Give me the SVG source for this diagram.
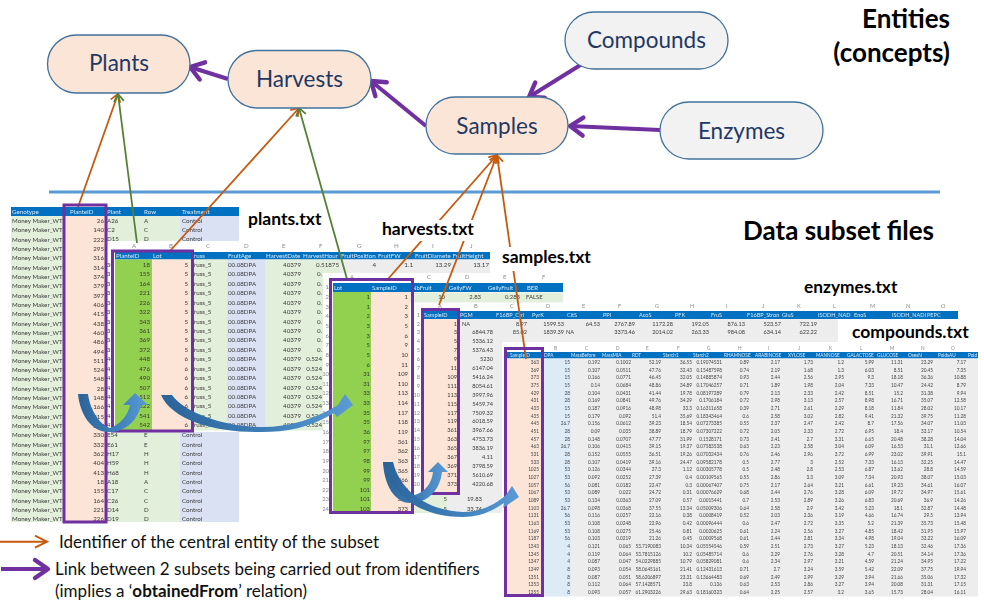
<svg xmlns="http://www.w3.org/2000/svg" width="984" height="611" viewBox="0 0 984 611">
<style>
text{font-family:Lato,"Liberation Sans",sans-serif}
.t1{font-size:6.2px;fill:#3a3a3a}
.t3{font-size:5.9px;fill:#3a3a3a}
.t4{font-size:5.6px;fill:#3a3a3a}
.t5{font-size:4.7px;fill:#444}
.h{fill:#dbe8f5}
.e,.e tspan{text-anchor:end}
.l{fill:#8a8a8a}
.bar{fill:#0070c0}
.lab{font-weight:700;fill:#000}
.node{stroke:#41719c;stroke-width:1.3}
.nl{font-size:22.5px;fill:#1f3864;text-anchor:middle}
.box{fill:none;stroke:#7030a0;stroke-width:3}
.or{stroke:#c55a11;stroke-width:1.8;fill:none;marker-end:url(#mo)}
.gr{stroke:#548235;stroke-width:1.8;fill:none;marker-end:url(#mg)}
.pu{stroke:#7030a0;stroke-width:4;fill:none;marker-end:url(#mp)}
.lg{font-size:17px;fill:#111}
</style>
<defs>
<marker id="mo" markerUnits="userSpaceOnUse" markerWidth="14" markerHeight="14" refX="11" refY="7" orient="auto"><path d="M3.500 2L11 7L3.500 12" fill="none" stroke="#c55a11" stroke-width="1.8"/></marker>
<marker id="mg" markerUnits="userSpaceOnUse" markerWidth="14" markerHeight="14" refX="11" refY="7" orient="auto"><path d="M3.500 2L11 7L3.500 12" fill="none" stroke="#548235" stroke-width="1.8"/></marker>
<marker id="mp" markerUnits="userSpaceOnUse" markerWidth="28" markerHeight="28" refX="20" refY="14" orient="auto"><path d="M7 5L20 14L7 23" fill="none" stroke="#7030a0" stroke-width="4.400" stroke-linecap="round" stroke-linejoin="round"/></marker>
<marker id="mol" markerUnits="userSpaceOnUse" markerWidth="20" markerHeight="20" refX="16" refY="10" orient="auto"><path d="M4 4L16 10L4 16" fill="none" stroke="#c55a11" stroke-width="2"/></marker>
<linearGradient id="ba" x1="0" y1="0" x2="1" y2="0"><stop offset="0" stop-color="#2a6399"/><stop offset=".55" stop-color="#3f7fb9"/><stop offset="1" stop-color="#5b9bd5"/></linearGradient>
<filter id="soft" x="0" y="0" width="1" height="1"><feGaussianBlur stdDeviation="0.35"/></filter>
</defs>

<g id="tables" filter="url(#soft)">
<g id="table-plants">
<rect x="11" y="207" width="228" height="9" class="bar"/>
<rect x="11" y="216" width="52" height="306" fill="#e2efda"/>
<rect x="63" y="216" width="42" height="306" fill="#fce4d6"/>
<rect x="105" y="216" width="75" height="306" fill="#e2efda"/>
<rect x="180" y="216" width="59" height="306" fill="#d9e1f2"/>
<g class="t1 h"><text x="12" y="214">Genotype</text><text x="70" y="214">PlanteID</text><text x="107" y="214">Plant</text><text x="144" y="214">Row</text><text x="182" y="214">Treatment</text></g>
<g class="t1">
<text x="12" y="223">Money Maker_WT</text><text x="12" y="232.3">Money Maker_WT</text><text x="12" y="241.6">Money Maker_WT</text><text x="12" y="251">Money Maker_WT</text><text x="12" y="260.3">Money Maker_WT</text><text x="12" y="269.6">Money Maker_WT</text><text x="12" y="278.9">Money Maker_WT</text><text x="12" y="288.2">Money Maker_WT</text><text x="12" y="297.6">Money Maker_WT</text><text x="12" y="306.9">Money Maker_WT</text><text x="12" y="316.2">Money Maker_WT</text><text x="12" y="325.5">Money Maker_WT</text><text x="12" y="334.8">Money Maker_WT</text><text x="12" y="344.2">Money Maker_WT</text><text x="12" y="353.5">Money Maker_WT</text><text x="12" y="362.8">Money Maker_WT</text><text x="12" y="372.1">Money Maker_WT</text><text x="12" y="381.4">Money Maker_WT</text><text x="12" y="390.8">Money Maker_WT</text><text x="12" y="400.1">Money Maker_WT</text><text x="12" y="409.4">Money Maker_WT</text><text x="12" y="418.7">Money Maker_WT</text><text x="12" y="428">Money Maker_WT</text><text x="12" y="437.4">Money Maker_WT</text><text x="12" y="446.7">Money Maker_WT</text><text x="12" y="456">Money Maker_WT</text><text x="12" y="465.3">Money Maker_WT</text><text x="12" y="474.6">Money Maker_WT</text><text x="12" y="484">Money Maker_WT</text><text x="12" y="493.3">Money Maker_WT</text><text x="12" y="502.6">Money Maker_WT</text><text x="12" y="511.9">Money Maker_WT</text><text x="12" y="521.2">Money Maker_WT</text>
</g>
<g class="t1 e">
<text x="104" y="223">26</text><text x="104" y="232.3">140</text><text x="104" y="241.6">222</text><text x="104" y="251">295</text><text x="104" y="260.3">316</text><text x="104" y="269.6">314</text><text x="104" y="278.9">374</text><text x="104" y="288.2">379</text><text x="104" y="297.6">397</text><text x="104" y="306.9">406</text><text x="104" y="316.2">415</text><text x="104" y="325.5">438</text><text x="104" y="334.8">460</text><text x="104" y="344.2">486</text><text x="104" y="353.5">494</text><text x="104" y="362.8">511</text><text x="104" y="372.1">524</text><text x="104" y="381.4">548</text><text x="104" y="390.8">28</text><text x="104" y="400.1">148</text><text x="104" y="409.4">166</text><text x="104" y="418.7">215</text><text x="104" y="428">327</text><text x="104" y="437.4">330</text><text x="104" y="446.7">332</text><text x="104" y="456">362</text><text x="104" y="465.3">404</text><text x="104" y="474.6">413</text><text x="104" y="484">18</text><text x="104" y="493.3">155</text><text x="104" y="502.6">164</text><text x="104" y="511.9">221</text><text x="104" y="521.2">226</text>
</g>
<g class="t1">
<text x="107" y="223">A26</text><text x="107" y="232.3">C2</text><text x="107" y="240.5">D15</text>
<text x="144" y="223">A</text><text x="144" y="232.3">C</text><text x="144" y="240.5">D</text>
<text x="182" y="223">Control</text><text x="182" y="232.3">Control</text><text x="182" y="240.5">Control</text>
<text x="107" y="437.4">E54</text><text x="144" y="437.4">E</text><text x="182" y="437.4">Control</text>
<text x="107" y="446.7">E61</text><text x="144" y="446.7">E</text><text x="182" y="446.7">Control</text>
<text x="107" y="456">H17</text><text x="144" y="456">H</text><text x="182" y="456">Control</text>
<text x="107" y="465.3">H59</text><text x="144" y="465.3">H</text><text x="182" y="465.3">Control</text>
<text x="107" y="474.6">H68</text><text x="144" y="474.6">H</text><text x="182" y="474.6">Control</text>
<text x="107" y="484">A18</text><text x="144" y="484">A</text><text x="182" y="484">Control</text>
<text x="107" y="493.3">C17</text><text x="144" y="493.3">C</text><text x="182" y="493.3">Control</text>
<text x="107" y="502.6">C26</text><text x="144" y="502.6">C</text><text x="182" y="502.6">Control</text>
<text x="107" y="511.9">D14</text><text x="144" y="511.9">D</text><text x="182" y="511.9">Control</text>
<text x="107" y="521.2">D19</text><text x="144" y="521.2">D</text><text x="182" y="521.2">Control</text>
</g>
</g>

<g id="table-harvests">
<rect x="107" y="241" width="383" height="191" fill="#fff"/>
<rect x="115" y="252" width="375" height="7.500" class="bar"/>
<rect x="115" y="259.500" width="37" height="171" fill="#92d050"/>
<rect x="152" y="259.500" width="38" height="171" fill="#fce4d6"/>
<rect x="190" y="259.500" width="37" height="171" fill="#e2efda"/>
<rect x="227" y="259.500" width="38" height="171" fill="#d9e1f2"/>
<rect x="265" y="259.500" width="75" height="171" fill="#e2efda"/>
<rect x="340" y="259.500" width="150" height="14" fill="#ededed"/>
<g class="t1 l"><text x="132" y="248">A</text><text x="169" y="248">B</text><text x="206" y="248">C</text><text x="244" y="248">D</text><text x="282" y="248">E</text><text x="319" y="248">F</text><text x="357" y="248">G</text><text x="394" y="248">H</text><text x="432" y="248">I</text><text x="470" y="248">J</text></g>
<g class="t1 h"><text x="116" y="258">PlanteID</text><text x="153" y="258">Lot</text><text x="191" y="258">Truss</text><text x="228" y="258">FruitAge</text><text x="266" y="258">HarvestDate</text><text x="303" y="258">HarvestHour</text><text x="341" y="258">FruitPosition</text><text x="378" y="258">FruitFW</text><text x="415" y="258">FruitDiamete</text><text x="452.500" y="258">FruitHeight</text></g>
<g class="t1 e">
<text x="150" y="267">18</text><text x="150" y="276.400">155</text><text x="150" y="285.800">164</text><text x="150" y="295.300">221</text><text x="150" y="304.700">226</text><text x="150" y="314.100">322</text><text x="150" y="323.500">343</text><text x="150" y="332.900">361</text><text x="150" y="342.400">369</text><text x="150" y="351.800">372</text><text x="150" y="361.200">448</text><text x="150" y="370.600">476</text><text x="150" y="380">490</text><text x="150" y="389.500">507</text><text x="150" y="398.900">512</text><text x="150" y="408.300">522</text><text x="150" y="417.700">541</text><text x="150" y="427.100">542</text>
<text x="188" y="267">5</text><text x="188" y="276.400">5</text><text x="188" y="285.800">5</text><text x="188" y="295.300">5</text><text x="188" y="304.700">5</text><text x="188" y="314.100">5</text><text x="188" y="323.500">5</text><text x="188" y="332.900">5</text><text x="188" y="342.400">5</text><text x="188" y="351.800">5</text><text x="188" y="361.200">6</text><text x="188" y="370.600">6</text><text x="188" y="380">6</text><text x="188" y="389.500">6</text><text x="188" y="398.900">6</text><text x="188" y="408.300">6</text><text x="188" y="417.700">6</text><text x="188" y="427.100">6</text>
</g>
<g class="t1">
<text y="267"><tspan x="191">Truss_5</tspan><tspan x="228">00.08DPA</tspan></text>
<text y="276.400"><tspan x="191">Truss_5</tspan><tspan x="228">00.08DPA</tspan></text>
<text y="285.800"><tspan x="191">Truss_5</tspan><tspan x="228">00.08DPA</tspan></text>
<text y="295.300"><tspan x="191">Truss_5</tspan><tspan x="228">00.08DPA</tspan></text>
<text y="304.700"><tspan x="191">Truss_5</tspan><tspan x="228">00.08DPA</tspan></text>
<text y="314.100"><tspan x="191">Truss_5</tspan><tspan x="228">00.08DPA</tspan></text>
<text y="323.500"><tspan x="191">Truss_5</tspan><tspan x="228">00.08DPA</tspan></text>
<text y="332.900"><tspan x="191">Truss_5</tspan><tspan x="228">00.08DPA</tspan></text>
<text y="342.400"><tspan x="191">Truss_5</tspan><tspan x="228">00.08DPA</tspan></text>
<text y="351.800"><tspan x="191">Truss_5</tspan><tspan x="228">00.08DPA</tspan></text>
<text y="361.200"><tspan x="191">Truss_5</tspan><tspan x="228">00.08DPA</tspan></text>
<text y="370.600"><tspan x="191">Truss_5</tspan><tspan x="228">00.08DPA</tspan></text>
<text y="380"><tspan x="191">Truss_5</tspan><tspan x="228">00.08DPA</tspan></text>
<text y="389.500"><tspan x="191">Truss_5</tspan><tspan x="228">00.08DPA</tspan></text>
<text y="398.900"><tspan x="191">Truss_5</tspan><tspan x="228">00.08DPA</tspan></text>
<text y="408.300"><tspan x="191">Truss_5</tspan><tspan x="228">00.08DPA</tspan></text>
<text y="417.700"><tspan x="191">Truss_5</tspan><tspan x="228">00.08DPA</tspan></text>
<text y="427.100"><tspan x="191">Truss_5</tspan><tspan x="228">00.08DPA</tspan></text>
</g>
<g class="t1 e">
<text y="267"><tspan x="301">40379</tspan><tspan x="339">0.51875</tspan><tspan x="376">4</tspan><tspan x="413">1.1</tspan><tspan x="451">13.29</tspan><tspan x="489">13.17</tspan></text>
<text y="276.400"><tspan x="301">40379</tspan><tspan x="322">0.</tspan></text>
<text y="285.800"><tspan x="301">40379</tspan><tspan x="322">0.</tspan></text>
<text y="295.300"><tspan x="301">40379</tspan><tspan x="322">0.</tspan></text>
<text y="304.700"><tspan x="301">40379</tspan><tspan x="322">0.</tspan></text>
<text y="314.100"><tspan x="301">40379</tspan><tspan x="322">0.</tspan></text>
<text y="323.500"><tspan x="301">40379</tspan><tspan x="322">0.</tspan></text>
<text y="332.900"><tspan x="301">40379</tspan><tspan x="322">0.</tspan></text>
<text y="342.400"><tspan x="301">40379</tspan><tspan x="322">0.</tspan></text>
<text y="351.800"><tspan x="301">40379</tspan><tspan x="322">0.</tspan></text>
<text y="361.200"><tspan x="301">40379</tspan><tspan x="322">0.524</tspan></text>
<text y="370.600"><tspan x="301">40379</tspan><tspan x="322">0.524</tspan></text>
<text y="380"><tspan x="301">40379</tspan><tspan x="322">0.524</tspan></text>
<text y="389.500"><tspan x="301">40379</tspan><tspan x="322">0.524</tspan></text>
<text y="398.900"><tspan x="301">40379</tspan><tspan x="322">0.524</tspan></text>
<text y="408.300"><tspan x="301">40379</tspan><tspan x="322">0.524</tspan></text>
<text y="417.700"><tspan x="301">40379</tspan><tspan x="322">0.524</tspan></text>
<text y="427.100"><tspan x="301">40379</tspan><tspan x="322">0.524</tspan></text>
</g>
<rect x="107" y="241" width="8" height="191" fill="#fff"/>
<g class="t1 e" fill="#555"><text x="114" y="267">30</text><text x="114" y="276.400">31</text><text x="114" y="285.800">32</text><text x="114" y="295.300">33</text><text x="114" y="304.700">34</text><text x="114" y="314.100">35</text><text x="114" y="323.500">36</text><text x="114" y="332.900">37</text><text x="114" y="342.400">38</text><text x="114" y="351.800">39</text><text x="114" y="361.200">40</text><text x="114" y="370.600">41</text><text x="114" y="380">42</text><text x="114" y="389.500">43</text><text x="114" y="398.900">44</text><text x="114" y="408.300">45</text><text x="114" y="417.700">46</text><text x="114" y="427.100">47</text></g>
</g>

<g id="table-harvest-sample">
<rect x="323" y="273" width="240" height="240" fill="#fff"/>
<rect x="333" y="283" width="230" height="9" class="bar"/>
<rect x="333" y="292" width="38" height="220" fill="#92d050"/>
<rect x="371" y="292" width="39" height="220" fill="#fce4d6"/>
<rect x="410" y="292.500" width="153" height="10" fill="#e2efda"/>
<rect x="410" y="494" width="37" height="19" fill="#e2efda"/>
<rect x="447" y="494" width="58" height="19" fill="#ededed"/>
<g class="t3 l"><text x="350" y="279">A</text><text x="427" y="279">C</text><text x="465" y="279">D</text><text x="503" y="279">E</text><text x="542" y="279">F</text></g>
<g class="t3 h"><text x="334" y="290">Lot</text><text x="372" y="290">SampleID</text><text x="412" y="290">NbFruit</text><text x="449" y="290">GellyFW</text><text x="488" y="290">GellyFruit</text><text x="527" y="290">BER</text></g>
<g class="t3 e"><text y="299"><tspan x="370">1</tspan><tspan x="408">1</tspan><tspan x="445">10</tspan><tspan x="481">2.83</tspan><tspan x="520">0.283</tspan></text>
<text y="308.600"><tspan x="370">1</tspan><tspan x="408">2</tspan></text>
<text y="318.300"><tspan x="370">2</tspan><tspan x="408">3</tspan></text>
<text y="327.900"><tspan x="370">3</tspan><tspan x="408">5</tspan></text>
<text y="337.600"><tspan x="370">3</tspan><tspan x="408">6</tspan></text>
<text y="347.200"><tspan x="370">5</tspan><tspan x="408">9</tspan></text>
<text y="356.800"><tspan x="370">5</tspan><tspan x="408">10</tspan></text>
<text y="366.500"><tspan x="370">6</tspan><tspan x="408">11</tspan></text>
<text y="376.100"><tspan x="370">31</tspan><tspan x="408">109</tspan></text>
<text y="385.800"><tspan x="370">31</tspan><tspan x="408">110</tspan></text>
<text y="395.400"><tspan x="370">33</tspan><tspan x="408">113</tspan></text>
<text y="405"><tspan x="370">33</tspan><tspan x="408">114</tspan></text>
<text y="414.700"><tspan x="370">35</tspan><tspan x="408">117</tspan></text>
<text y="424.300"><tspan x="370">35</tspan><tspan x="408">118</tspan></text>
<text y="434"><tspan x="370">36</tspan><tspan x="408">119</tspan></text>
<text y="443.600"><tspan x="370">97</tspan><tspan x="408">361</tspan></text>
<text y="453.200"><tspan x="370">97</tspan><tspan x="408">362</tspan></text>
<text y="462.900"><tspan x="370">98</tspan><tspan x="408">363</tspan></text>
<text y="472.500"><tspan x="370">99</tspan><tspan x="408">365</tspan></text>
<text y="482.200"><tspan x="370">99</tspan><tspan x="408">366</tspan></text>
<text y="491.800"><tspan x="370">101</tspan><tspan x="408">369</tspan></text>
<text y="501.400"><tspan x="370">101</tspan><tspan x="408">371</tspan><tspan x="447">5</tspan><tspan x="482">19.83</tspan></text>
<text y="511"><tspan x="370">103</tspan><tspan x="408">373</tspan><tspan x="447">5</tspan><tspan x="482">33.74</tspan></text></g>
<text class="t3" x="526" y="299">FALSE</text>
<g class="t3 l e"><text x="329" y="289">1</text><text x="329" y="299">2</text><text x="329" y="308.600">3</text><text x="329" y="318.300">4</text><text x="329" y="327.900">5</text><text x="329" y="337.600">6</text><text x="329" y="347.200">7</text><text x="329" y="356.800">8</text><text x="329" y="366.500">9</text><text x="329" y="376.100">10</text><text x="329" y="385.800">11</text><text x="329" y="395.400">12</text><text x="329" y="405">13</text><text x="329" y="414.700">14</text><text x="329" y="424.300">15</text><text x="329" y="434">16</text><text x="329" y="443.600">17</text><text x="329" y="453.200">18</text><text x="329" y="462.900">19</text><text x="329" y="472.500">20</text><text x="329" y="482.200">21</text><text x="329" y="491.800">22</text><text x="329" y="501.400">23</text><text x="329" y="511">24</text></g>
</g>

<g id="table-enzymes">
<rect x="413" y="303" width="545" height="39" fill="#fff"/>
<rect x="413" y="303" width="92" height="191" fill="#fff"/>
<rect x="422" y="311" width="536" height="8" class="bar"/>
<rect x="424" y="319" width="34" height="175" fill="#fce4d6"/>
<rect x="458" y="319" width="47" height="175" fill="#ededed"/>
<rect x="505" y="319" width="453" height="23" fill="#ededed"/>
<g class="t4 l"><text x="438" y="308">A</text><text x="474" y="308">B</text><text x="510" y="308">C</text><text x="546" y="308">D</text><text x="582" y="308">E</text><text x="618" y="308">F</text><text x="655" y="308">G</text><text x="690" y="308">H</text><text x="726" y="308">I</text><text x="762" y="308">J</text><text x="797" y="308">K</text><text x="833" y="308">L</text><text x="870" y="308">M</text><text x="906" y="308">N</text><text x="941" y="308">O</text></g>
<g class="t4 h"><text x="424" y="317">SampleID</text><text x="460" y="317">PGM</text><text x="496" y="317">F16BP_Ctrl</text><text x="532" y="317">PyrK</text><text x="567" y="317">CitS</text><text x="603" y="317">PPI</text><text x="639" y="317">AcoS</text><text x="675" y="317">PFK</text><text x="711" y="317">FruS</text><text x="747" y="317">F16BP_Stron</text><text x="782" y="317">GluS</text><text x="818" y="317">ISODH_NAD</text><text x="854" y="317">EnoS</text><text x="892" y="317">ISODH_NADI</text><text x="927" y="317">PEPC</text></g>
<g class="t4 e">
<text y="325.500"><tspan x="457">1</tspan><tspan x="527">8.97</tspan><tspan x="564">1599.53</tspan><tspan x="600">64.53</tspan><tspan x="635">2767.89</tspan><tspan x="673">1172.28</tspan><tspan x="709">192.05</tspan><tspan x="745">876.13</tspan><tspan x="781">523.57</tspan><tspan x="817">722.19</tspan></text>
<text y="334.400"><tspan x="457">3</tspan><tspan x="493">6844.78</tspan><tspan x="527">85.02</tspan><tspan x="564">1839.39</tspan><tspan x="635">3373.46</tspan><tspan x="673">2014.02</tspan><tspan x="709">263.33</tspan><tspan x="745">984.08</tspan><tspan x="781">634.14</tspan><tspan x="817">622.22</tspan></text>
<text y="343.300"><tspan x="457">5</tspan><tspan x="493">5336.12</tspan></text>
<text y="352.200"><tspan x="457">7</tspan><tspan x="493">5376.43</tspan></text>
<text y="361.100"><tspan x="457">9</tspan><tspan x="493">5230</tspan></text>
<text y="370"><tspan x="457">11</tspan><tspan x="493">6147.04</tspan></text>
<text y="378.900"><tspan x="457">109</tspan><tspan x="493">5416.24</tspan></text>
<text y="387.800"><tspan x="457">111</tspan><tspan x="493">8054.61</tspan></text>
<text y="396.700"><tspan x="457">113</tspan><tspan x="493">3997.96</tspan></text>
<text y="405.600"><tspan x="457">115</tspan><tspan x="493">5459.74</tspan></text>
<text y="414.500"><tspan x="457">117</tspan><tspan x="493">7509.32</tspan></text>
<text y="423.400"><tspan x="457">119</tspan><tspan x="493">6018.59</tspan></text>
<text y="432.300"><tspan x="457">361</tspan><tspan x="493">3967.66</tspan></text>
<text y="441.200"><tspan x="457">363</tspan><tspan x="493">4753.73</tspan></text>
<text y="450.100"><tspan x="457">365</tspan><tspan x="493">3836.19</tspan></text>
<text y="459"><tspan x="457">367</tspan><tspan x="493">4.11</tspan></text>
<text y="467.900"><tspan x="457">369</tspan><tspan x="493">3798.59</tspan></text>
<text y="476.800"><tspan x="457">371</tspan><tspan x="493">5610.69</tspan></text>
<text y="485.700"><tspan x="457">373</tspan><tspan x="493">4220.68</tspan></text>
</g>
<text class="t4" x="462" y="325.500">NA</text><text class="t4" x="566" y="334.400">NA</text>
<g class="t4 l e"><text x="420" y="317">1</text><text x="420" y="325.500">2</text><text x="420" y="334.400">3</text><text x="420" y="343.300">4</text><text x="420" y="352.200">5</text><text x="420" y="361.100">6</text><text x="420" y="370">7</text><text x="420" y="378.900">8</text><text x="420" y="387.800">9</text><text x="420" y="396.700">10</text><text x="420" y="405.600">11</text><text x="420" y="414.500">12</text><text x="420" y="423.400">13</text><text x="420" y="432.300">14</text><text x="420" y="441.200">15</text><text x="420" y="450.100">16</text><text x="420" y="459">17</text><text x="420" y="467.900">18</text><text x="420" y="476.800">19</text><text x="420" y="485.700">20</text></g>
<rect x="838" y="319" width="146" height="23" fill="#fff"/>
</g>

<g id="table-compounds">
<rect x="502" y="342" width="482" height="256" fill="#fff"/>
<rect x="507" y="352" width="471" height="6.500" class="bar"/>
<rect x="507" y="358.500" width="36" height="238" fill="#fce4d6"/>
<rect x="543" y="358.500" width="28" height="238" fill="#ddebf7"/>
<rect x="571" y="358.500" width="407" height="238" fill="#ededed"/>
<g class="t5 l"><text x="554" y="350">B</text><text x="585" y="350">C</text><text x="616" y="350">D</text><text x="646" y="350">E</text><text x="677" y="350">F</text><text x="707" y="350">G</text><text x="738" y="350">H</text><text x="768" y="350">I</text><text x="798" y="350">J</text><text x="829" y="350">K</text><text x="860" y="350">L</text><text x="890" y="350">M</text><text x="921" y="350">N</text><text x="951" y="350">O</text></g>
<g class="t5 h"><text x="510" y="357">SampleID</text><text x="544" y="357">DPA</text><text x="571" y="357">MassBefore</text><text x="602" y="357">MassMIA</text><text x="632" y="357">RDT</text><text x="663" y="357">Starch1</text><text x="693" y="357">Starch2</text><text x="724" y="357">RHAMNOSE</text><text x="755" y="357">ARABINOSE</text><text x="788" y="357">XYLOSE</text><text x="816" y="357">MANNOSE</text><text x="847" y="357">GALACTOSE</text><text x="877" y="357">GLUCOSE</text><text x="908" y="357">OsesN</text><text x="938" y="357">PoidsAU</text><text x="968" y="357">Poid</text></g>
<g class="t5 e">
<text y="364"><tspan x="539">363</tspan><tspan x="570">15</tspan><tspan x="600">0.192</tspan><tspan x="631">0.1002</tspan><tspan x="661">52.19</tspan><tspan x="692">36.55</tspan><tspan x="722">0.19074531</tspan><tspan x="749">0.89</tspan><tspan x="780">2.17</tspan><tspan x="813">1.73</tspan><tspan x="844">1.2</tspan><tspan x="874">5.99</tspan><tspan x="903">11.31</tspan><tspan x="933">23.29</tspan><tspan x="966">7.17</tspan></text>
<text y="371.700"><tspan x="539">369</tspan><tspan x="570">15</tspan><tspan x="600">0.107</tspan><tspan x="631">0.0511</tspan><tspan x="661">47.76</tspan><tspan x="692">32.43</tspan><tspan x="722">0.15487598</tspan><tspan x="749">0.74</tspan><tspan x="780">2.19</tspan><tspan x="813">1.68</tspan><tspan x="844">1.3</tspan><tspan x="874">6.03</tspan><tspan x="903">8.51</tspan><tspan x="933">20.45</tspan><tspan x="966">7.35</tspan></text>
<text y="379.300"><tspan x="539">373</tspan><tspan x="570">15</tspan><tspan x="600">0.166</tspan><tspan x="631">0.0771</tspan><tspan x="661">46.45</tspan><tspan x="692">32.05</tspan><tspan x="722">0.14885874</tspan><tspan x="749">0.93</tspan><tspan x="780">2.44</tspan><tspan x="813">2.56</tspan><tspan x="844">2.95</tspan><tspan x="874">9.3</tspan><tspan x="903">18.18</tspan><tspan x="933">36.36</tspan><tspan x="966">10.88</tspan></text>
<text y="387"><tspan x="539">375</tspan><tspan x="570">15</tspan><tspan x="600">0.14</tspan><tspan x="631">0.0684</tspan><tspan x="661">48.86</tspan><tspan x="692">34.89</tspan><tspan x="722">0.17046257</tspan><tspan x="749">0.71</tspan><tspan x="780">1.89</tspan><tspan x="813">1.98</tspan><tspan x="844">2.04</tspan><tspan x="874">7.33</tspan><tspan x="903">10.47</tspan><tspan x="933">24.42</tspan><tspan x="966">8.79</tspan></text>
<text y="394.700"><tspan x="539">429</tspan><tspan x="570">28</tspan><tspan x="600">0.104</tspan><tspan x="631">0.0431</tspan><tspan x="661">41.44</tspan><tspan x="692">19.78</tspan><tspan x="722">0.08197289</tspan><tspan x="749">0.79</tspan><tspan x="780">2.13</tspan><tspan x="813">2.33</tspan><tspan x="844">2.42</tspan><tspan x="874">8.51</tspan><tspan x="903">15.2</tspan><tspan x="933">31.38</tspan><tspan x="966">9.94</tspan></text>
<text y="402.400"><tspan x="539">431</tspan><tspan x="570">28</tspan><tspan x="600">0.169</tspan><tspan x="631">0.0841</tspan><tspan x="661">49.76</tspan><tspan x="692">34.29</tspan><tspan x="722">0.1706184</tspan><tspan x="749">0.72</tspan><tspan x="780">2.98</tspan><tspan x="813">3.13</tspan><tspan x="844">2.57</tspan><tspan x="874">8.98</tspan><tspan x="903">16.71</tspan><tspan x="933">35.07</tspan><tspan x="966">12.58</tspan></text>
<text y="410"><tspan x="539">433</tspan><tspan x="570">15</tspan><tspan x="600">0.187</tspan><tspan x="631">0.0916</tspan><tspan x="661">48.98</tspan><tspan x="692">33.3</tspan><tspan x="722">0.16311658</tspan><tspan x="749">0.39</tspan><tspan x="780">2.71</tspan><tspan x="813">2.61</tspan><tspan x="844">2.29</tspan><tspan x="874">8.18</tspan><tspan x="903">11.84</tspan><tspan x="933">28.02</tspan><tspan x="966">10.17</tspan></text>
<text y="417.700"><tspan x="539">435</tspan><tspan x="570">15</tspan><tspan x="600">0.179</tspan><tspan x="631">0.092</tspan><tspan x="661">51.4</tspan><tspan x="692">35.69</tspan><tspan x="722">0.18343464</tspan><tspan x="749">0.6</tspan><tspan x="780">2.58</tspan><tspan x="813">3.02</tspan><tspan x="844">2.82</tspan><tspan x="874">9.41</tspan><tspan x="903">21.32</tspan><tspan x="933">39.75</tspan><tspan x="966">11.28</tspan></text>
<text y="425.400"><tspan x="539">445</tspan><tspan x="570">26.7</tspan><tspan x="600">0.156</tspan><tspan x="631">0.0612</tspan><tspan x="661">39.23</tspan><tspan x="692">18.54</tspan><tspan x="722">0.07273385</tspan><tspan x="749">0.55</tspan><tspan x="780">2.37</tspan><tspan x="813">2.47</tspan><tspan x="844">2.42</tspan><tspan x="874">8.7</tspan><tspan x="903">17.56</tspan><tspan x="933">34.07</tspan><tspan x="966">11.03</tspan></text>
<text y="433"><tspan x="539">451</tspan><tspan x="570">28</tspan><tspan x="600">0.09</tspan><tspan x="631">0.035</tspan><tspan x="661">38.89</tspan><tspan x="692">18.79</tspan><tspan x="722">0.07307222</tspan><tspan x="749">0.72</tspan><tspan x="780">2.05</tspan><tspan x="813">2.33</tspan><tspan x="844">2.72</tspan><tspan x="874">6.95</tspan><tspan x="903">18.4</tspan><tspan x="933">33.17</tspan><tspan x="966">10.54</tspan></text>
<text y="440.700"><tspan x="539">457</tspan><tspan x="570">28</tspan><tspan x="600">0.148</tspan><tspan x="631">0.0707</tspan><tspan x="661">47.77</tspan><tspan x="692">31.99</tspan><tspan x="722">0.1528171</tspan><tspan x="749">0.73</tspan><tspan x="780">2.41</tspan><tspan x="813">2.7</tspan><tspan x="844">3.31</tspan><tspan x="874">6.65</tspan><tspan x="903">20.48</tspan><tspan x="933">38.28</tspan><tspan x="966">14.04</tspan></text>
<text y="448.400"><tspan x="539">463</tspan><tspan x="570">26.7</tspan><tspan x="600">0.106</tspan><tspan x="631">0.0415</tspan><tspan x="661">39.15</tspan><tspan x="692">19.37</tspan><tspan x="722">0.07583538</tspan><tspan x="749">0.63</tspan><tspan x="780">2.23</tspan><tspan x="813">2.58</tspan><tspan x="844">3.04</tspan><tspan x="874">6.09</tspan><tspan x="903">16.53</tspan><tspan x="933">31.1</tspan><tspan x="966">12.66</tspan></text>
<text y="456"><tspan x="539">531</tspan><tspan x="570">28</tspan><tspan x="600">0.152</tspan><tspan x="631">0.0555</tspan><tspan x="661">36.51</tspan><tspan x="692">19.26</tspan><tspan x="722">0.07032434</tspan><tspan x="749">0.76</tspan><tspan x="780">2.46</tspan><tspan x="813">2.96</tspan><tspan x="844">3.72</tspan><tspan x="874">6.99</tspan><tspan x="903">23.02</tspan><tspan x="933">39.91</tspan><tspan x="966">15.1</tspan></text>
<text y="463.700"><tspan x="539">533</tspan><tspan x="570">28</tspan><tspan x="600">0.107</tspan><tspan x="631">0.0419</tspan><tspan x="661">39.16</tspan><tspan x="692">24.47</tspan><tspan x="722">0.09582178</tspan><tspan x="749">0.5</tspan><tspan x="780">2.77</tspan><tspan x="813">3</tspan><tspan x="844">2.52</tspan><tspan x="874">7.33</tspan><tspan x="903">16.13</tspan><tspan x="933">32.25</tspan><tspan x="966">14.47</tspan></text>
<text y="471.400"><tspan x="539">1025</tspan><tspan x="570">53</tspan><tspan x="600">0.126</tspan><tspan x="631">0.0344</tspan><tspan x="661">27.3</tspan><tspan x="692">1.12</tspan><tspan x="722">0.00305778</tspan><tspan x="749">0.5</tspan><tspan x="780">2.48</tspan><tspan x="813">2.8</tspan><tspan x="844">2.53</tspan><tspan x="874">6.87</tspan><tspan x="903">13.62</tspan><tspan x="933">28.8</tspan><tspan x="966">14.59</tspan></text>
<text y="479"><tspan x="539">1027</tspan><tspan x="570">53</tspan><tspan x="600">0.092</tspan><tspan x="631">0.0252</tspan><tspan x="661">27.39</tspan><tspan x="692">0.4</tspan><tspan x="722">0.00109565</tspan><tspan x="749">0.55</tspan><tspan x="780">2.86</tspan><tspan x="813">3.3</tspan><tspan x="844">3.09</tspan><tspan x="874">7.34</tspan><tspan x="903">20.93</tspan><tspan x="933">38.07</tspan><tspan x="966">15.03</tspan></text>
<text y="486.700"><tspan x="539">1057</tspan><tspan x="570">56</tspan><tspan x="600">0.081</tspan><tspan x="631">0.0182</tspan><tspan x="661">22.47</tspan><tspan x="692">0.3</tspan><tspan x="722">0.00067407</tspan><tspan x="749">0.75</tspan><tspan x="780">2.17</tspan><tspan x="813">2.64</tspan><tspan x="844">3.21</tspan><tspan x="874">6.61</tspan><tspan x="903">19.23</tspan><tspan x="933">34.61</tspan><tspan x="966">16.07</tspan></text>
<text y="494.400"><tspan x="539">1067</tspan><tspan x="570">53</tspan><tspan x="600">0.089</tspan><tspan x="631">0.022</tspan><tspan x="661">24.72</tspan><tspan x="692">0.31</tspan><tspan x="722">0.00076629</tspan><tspan x="749">0.68</tspan><tspan x="780">2.44</tspan><tspan x="813">2.76</tspan><tspan x="844">3.28</tspan><tspan x="874">6.09</tspan><tspan x="903">19.72</tspan><tspan x="933">34.97</tspan><tspan x="966">15.61</tspan></text>
<text y="502"><tspan x="539">1089</tspan><tspan x="570">53</tspan><tspan x="600">0.134</tspan><tspan x="631">0.0363</tspan><tspan x="661">27.09</tspan><tspan x="692">0.57</tspan><tspan x="722">0.0015441</tspan><tspan x="749">0.7</tspan><tspan x="780">2.53</tspan><tspan x="813">2.89</tspan><tspan x="844">3.26</tspan><tspan x="874">6.83</tspan><tspan x="903">20.69</tspan><tspan x="933">36.9</tspan><tspan x="966">14.26</tspan></text>
<text y="509.700"><tspan x="539">1103</tspan><tspan x="570">26.7</tspan><tspan x="600">0.098</tspan><tspan x="631">0.0368</tspan><tspan x="661">37.55</tspan><tspan x="692">13.34</tspan><tspan x="722">0.05009306</tspan><tspan x="749">0.64</tspan><tspan x="780">2.58</tspan><tspan x="813">2.9</tspan><tspan x="844">3.42</tspan><tspan x="874">5.23</tspan><tspan x="903">18.1</tspan><tspan x="933">32.87</tspan><tspan x="966">14.48</tspan></text>
<text y="517.400"><tspan x="539">1131</tspan><tspan x="570">56</tspan><tspan x="600">0.116</tspan><tspan x="631">0.0257</tspan><tspan x="661">22.16</tspan><tspan x="692">0.38</tspan><tspan x="722">0.0008419</tspan><tspan x="749">0.52</tspan><tspan x="780">2.03</tspan><tspan x="813">2.36</tspan><tspan x="844">3.19</tspan><tspan x="874">4.66</tspan><tspan x="903">16.74</tspan><tspan x="933">29.5</tspan><tspan x="966">13.94</tspan></text>
<text y="525"><tspan x="539">1163</tspan><tspan x="570">53</tspan><tspan x="600">0.108</tspan><tspan x="631">0.0248</tspan><tspan x="661">22.96</tspan><tspan x="692">0.42</tspan><tspan x="722">0.00096444</tspan><tspan x="749">0.6</tspan><tspan x="780">2.47</tspan><tspan x="813">2.72</tspan><tspan x="844">3.35</tspan><tspan x="874">5.2</tspan><tspan x="903">21.39</tspan><tspan x="933">35.73</tspan><tspan x="966">15.48</tspan></text>
<text y="532.700"><tspan x="539">1169</tspan><tspan x="570">53</tspan><tspan x="600">0.108</tspan><tspan x="631">0.0275</tspan><tspan x="661">25.46</tspan><tspan x="692">0.81</tspan><tspan x="722">0.0020625</tspan><tspan x="749">0.61</tspan><tspan x="780">2.24</tspan><tspan x="813">2.56</tspan><tspan x="844">3.27</tspan><tspan x="874">4.85</tspan><tspan x="903">18.42</tspan><tspan x="933">31.95</tspan><tspan x="966">15.97</tspan></text>
<text y="540.400"><tspan x="539">1187</tspan><tspan x="570">56</tspan><tspan x="600">0.103</tspan><tspan x="631">0.0219</tspan><tspan x="661">21.26</tspan><tspan x="692">0.45</tspan><tspan x="722">0.0009568</tspan><tspan x="749">0.61</tspan><tspan x="780">2.44</tspan><tspan x="813">2.81</tspan><tspan x="844">3.34</tspan><tspan x="874">4.98</tspan><tspan x="903">19.04</tspan><tspan x="933">33.22</tspan><tspan x="966">16.09</tspan></text>
<text y="548"><tspan x="539">1343</tspan><tspan x="570">4</tspan><tspan x="600">0.121</tspan><tspan x="631">0.065</tspan><tspan x="661">53.7190083</tspan><tspan x="692">10.34</tspan><tspan x="722">0.05554546</tspan><tspan x="749">0.59</tspan><tspan x="780">2.51</tspan><tspan x="813">2.73</tspan><tspan x="844">3.27</tspan><tspan x="874">5.23</tspan><tspan x="903">18.13</tspan><tspan x="933">32.46</tspan><tspan x="966">17.36</tspan></text>
<text y="555.700"><tspan x="539">1345</tspan><tspan x="570">4</tspan><tspan x="600">0.119</tspan><tspan x="631">0.064</tspan><tspan x="661">53.7815126</tspan><tspan x="692">10.2</tspan><tspan x="722">0.05485714</tspan><tspan x="749">0.6</tspan><tspan x="780">2.29</tspan><tspan x="813">2.76</tspan><tspan x="844">3.28</tspan><tspan x="874">4.7</tspan><tspan x="903">20.51</tspan><tspan x="933">34.14</tspan><tspan x="966">17.36</tspan></text>
<text y="563.400"><tspan x="539">1347</tspan><tspan x="570">4</tspan><tspan x="600">0.087</tspan><tspan x="631">0.047</tspan><tspan x="661">54.0229885</tspan><tspan x="692">10.79</tspan><tspan x="722">0.05829081</tspan><tspan x="749">0.6</tspan><tspan x="780">2.34</tspan><tspan x="813">2.97</tspan><tspan x="844">3.21</tspan><tspan x="874">4.59</tspan><tspan x="903">21.24</tspan><tspan x="933">34.95</tspan><tspan x="966">17.22</tspan></text>
<text y="571"><tspan x="539">1349</tspan><tspan x="570">8</tspan><tspan x="600">0.093</tspan><tspan x="631">0.054</tspan><tspan x="661">58.0645161</tspan><tspan x="692">21.41</tspan><tspan x="722">0.12431613</tspan><tspan x="749">0.71</tspan><tspan x="780">2.7</tspan><tspan x="813">3.24</tspan><tspan x="844">3.59</tspan><tspan x="874">5.42</tspan><tspan x="903">22.09</tspan><tspan x="933">37.75</tspan><tspan x="966">19.94</tspan></text>
<text y="578.700"><tspan x="539">1351</tspan><tspan x="570">8</tspan><tspan x="600">0.087</tspan><tspan x="631">0.051</tspan><tspan x="661">58.6206897</tspan><tspan x="692">23.31</tspan><tspan x="722">0.13664483</tspan><tspan x="749">0.69</tspan><tspan x="780">2.49</tspan><tspan x="813">2.99</tspan><tspan x="844">3.29</tspan><tspan x="874">3.94</tspan><tspan x="903">21.66</tspan><tspan x="933">35.06</tspan><tspan x="966">17.32</tspan></text>
<text y="586.400"><tspan x="539">1353</tspan><tspan x="570">8</tspan><tspan x="600">0.112</tspan><tspan x="631">0.064</tspan><tspan x="661">57.1428571</tspan><tspan x="692">23.8</tspan><tspan x="722">0.136</tspan><tspan x="749">0.63</tspan><tspan x="780">2.53</tspan><tspan x="813">2.86</tspan><tspan x="844">3.27</tspan><tspan x="874">3.94</tspan><tspan x="903">20.08</tspan><tspan x="933">31.31</tspan><tspan x="966">17.15</tspan></text>
<text y="594"><tspan x="539">1355</tspan><tspan x="570">8</tspan><tspan x="600">0.093</tspan><tspan x="631">0.057</tspan><tspan x="661">61.2903226</tspan><tspan x="692">29.63</tspan><tspan x="722">0.18160323</tspan><tspan x="749">0.64</tspan><tspan x="780">2.25</tspan><tspan x="813">2.57</tspan><tspan x="844">3.2</tspan><tspan x="874">3.65</tspan><tspan x="903">15.73</tspan><tspan x="933">28.04</tspan><tspan x="966">16.11</tspan></text>
</g>
</g>
</g>

<g id="divider"><line x1="49" y1="192" x2="940" y2="192" stroke="#5b9bd5" stroke-width="3.200"/></g>

<g id="connectors">
<line class="or" x1="78" y1="207" x2="118" y2="94"/>
<line class="gr" x1="137" y1="243" x2="118" y2="94"/>
<line class="or" x1="170" y1="251" x2="299" y2="108"/>
<line class="gr" x1="347" y1="279" x2="299" y2="108"/>
<line class="or" x1="388" y1="279" x2="497" y2="155"/>
<line class="or" x1="439" y1="305" x2="497" y2="155"/>
<line class="or" x1="526" y1="359" x2="497" y2="155"/>
<line class="pu" x1="228" y1="79" x2="190" y2="67"/>
<line class="pu" x1="426" y1="126" x2="371" y2="81"/>
<line class="pu" x1="582" y1="64" x2="529" y2="97"/>
<line class="pu" x1="660" y1="130" x2="570" y2="126"/>
</g>

<g id="labels">
<rect x="380" y="220" width="98" height="21" fill="#fff"/>
<rect x="497" y="247" width="98" height="24" fill="#fff"/>
<text class="lab" x="248" y="225" font-size="17.500">plants.txt</text>
<text class="lab" x="382" y="235" font-size="17.500">harvests.txt</text>
<text class="lab" x="502" y="263" font-size="17.500">samples.txt</text>
<text class="lab" x="804" y="293" font-size="17.300">enzymes.txt</text>
<text class="lab" x="852" y="338" font-size="17.500">compounds.txt</text>
<text class="lab" x="950" y="28" font-size="26" text-anchor="end">Entities</text>
<text class="lab" x="950" y="62" font-size="26" text-anchor="end">(concepts)</text>
<text class="lab" x="743" y="240" font-size="26">Data subset files</text>
</g>

<g id="node-plants"><rect class="node" x="47.500" y="35" width="142.500" height="58" rx="29" fill="#fbe5d6"/><text class="nl" x="119" y="71">Plants</text></g>
<g id="node-harvests"><rect class="node" x="228" y="50.500" width="143" height="57.500" rx="29" fill="#fbe5d6"/><text class="nl" x="299.500" y="87">Harvests</text></g>
<g id="node-samples"><rect class="node" x="426" y="97" width="142" height="57" rx="29" fill="#fbe5d6"/><text class="nl" x="497" y="134">Samples</text></g>
<g id="node-compounds"><rect class="node" x="565" y="12" width="163" height="57" rx="29" fill="#f2f2f2"/><text class="nl" x="646.500" y="48">Compounds</text></g>
<g id="node-enzymes"><rect class="node" x="660" y="102" width="163" height="57" rx="29" fill="#f2f2f2"/><text class="nl" x="741.500" y="139">Enzymes</text></g>

<g id="purple-boxes">
<rect class="box" x="64" y="205" width="42" height="317"/>
<rect class="box" x="112.500" y="251" width="80" height="180"/>
<rect class="box" x="330.500" y="279.500" width="82" height="233"/>
<rect class="box" x="422.500" y="309.500" width="36" height="184"/>
<rect class="box" x="505.500" y="348.500" width="37" height="247"/>
</g>

<g id="curved-arrows">
<path fill="url(#ba)" d="M78 394L88 394C90 410 100 425 110 428C120 425 128 415 130 405L123 405L135 393L148 405L141 405C138 420 125 433 108 432C92 432 80 415 78 394Z"/>
<path fill="url(#ba)" d="M161 395L172 395C185 413 225 427 262 427C290 427 315 419 338 405L345 394L353 405L337 417L334 413C310 428 285 432 262 432C215 433 172 420 161 395Z"/>
<path fill="url(#ba)" d="M383 462L393 462C395 480 405 492 415 495C425 492 432 483 433 472L428 472L438 462L448 472L442 472C440 490 428 503 410 503C395 503 384 485 383 462Z"/>
<path fill="url(#ba)" d="M393 462C400 490 425 510 463 512C480 512 495 505 506 495L512 486L519 497L503 508L504 503C490 513 476 517 463 517C420 517 390 495 383 462Z"/>
</g>

<g id="legend">
<line x1="0" y1="541.700" x2="47" y2="541.700" stroke="#c55a11" stroke-width="2" marker-end="url(#mol)"/>
<line class="pu" x1="1" y1="569" x2="48" y2="569"/>
<text class="lg" x="59" y="548">Identifier of the central entity of the subset</text>
<text class="lg" x="55" y="575">Link between 2 subsets being carried out from identifiers</text>
<text class="lg" x="55" y="597">(implies a ‘<tspan font-weight="700">obtainedFrom</tspan>’ relation)</text>
</g>
</svg>
